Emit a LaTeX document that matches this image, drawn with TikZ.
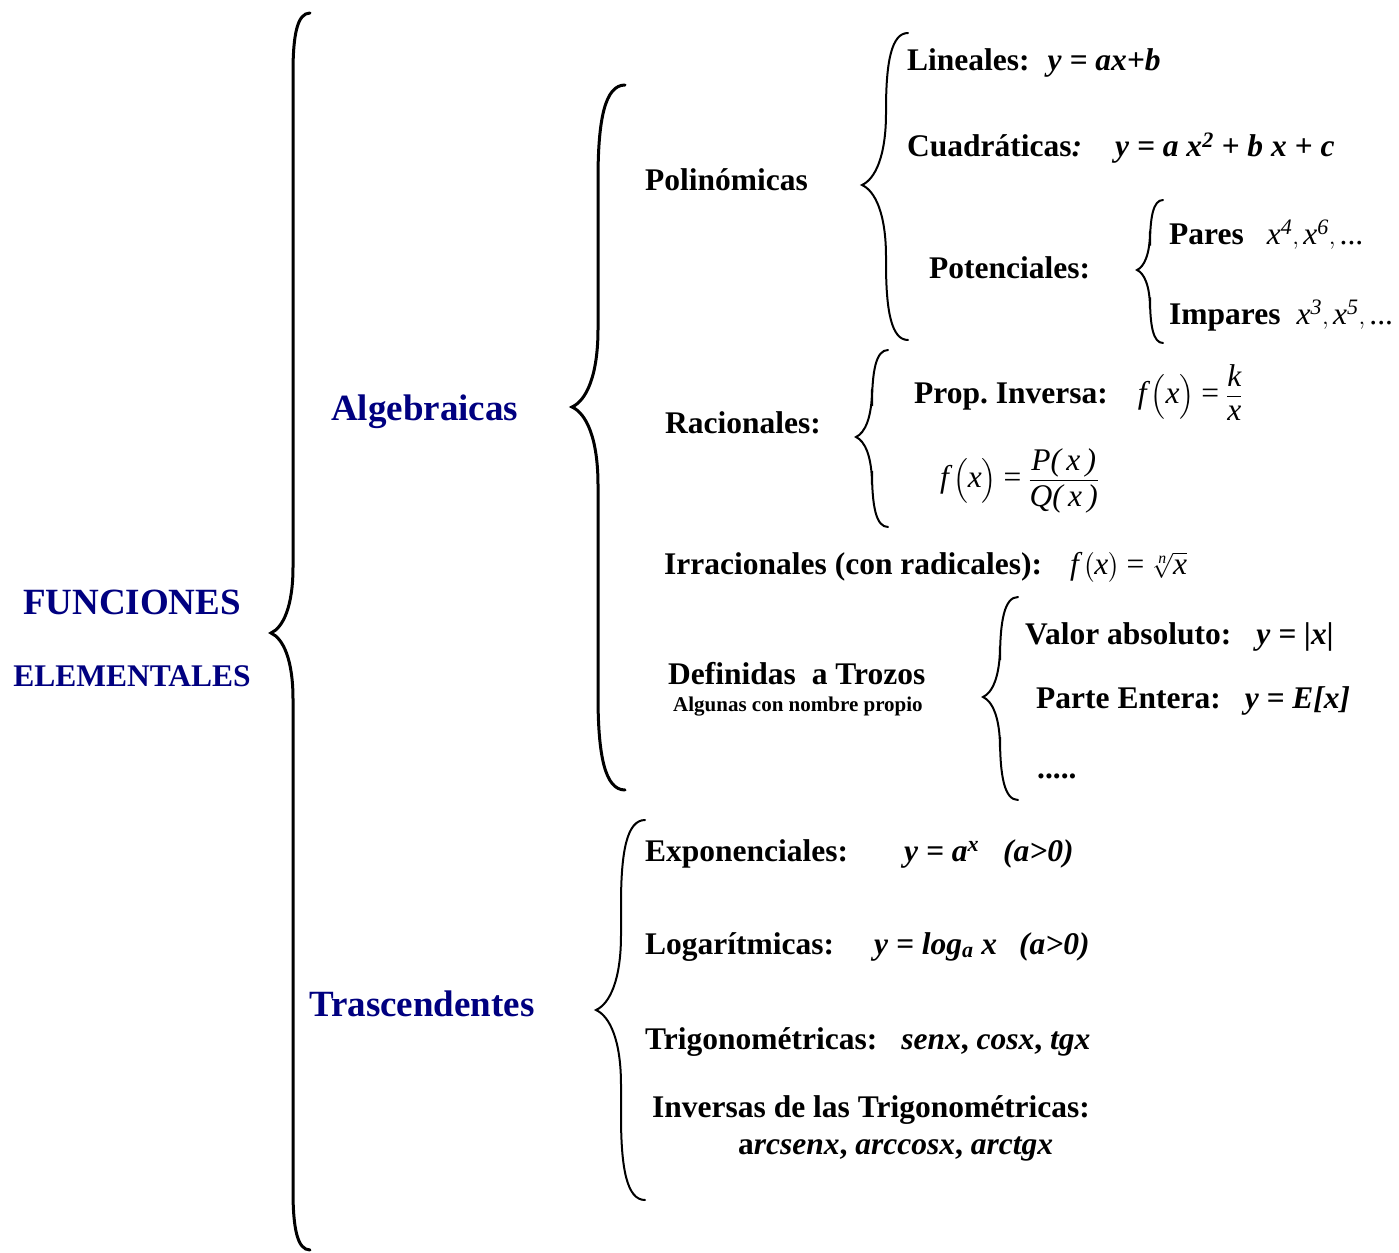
\documentclass[tikz,border=0pt]{standalone}
\usepackage{amsmath}
\usepackage{fontspec}
\setmainfont{Liberation Serif}
\definecolor{navyblue}{RGB}{0,0,128}

% upright-weight italic letter for the formulas
\newcommand\itv[1]{\text{\mdseries\itshape #1}}
\newcommand\eqs{\mathrel{\text{\mdseries =}}}

% left curly brace: end x, stem x, tip x, top y, tip y, bottom y
\newcommand\curlybr[7][brace]{%
  \pgfmathsetmacro\bwe{#2-#3}%
  \pgfmathsetmacro\bwt{#3-#4}%
  \pgfmathsetmacro\bya{#5+3.5*\bwe}%
  \pgfmathsetmacro\byb{#6-3.0*\bwt}%
  \pgfmathsetmacro\byc{#6+3.0*\bwt}%
  \pgfmathsetmacro\byd{#7-3.5*\bwe}%
  \pgfmathsetmacro\bxa{#3+0.25*\bwe}%
  \pgfmathsetmacro\bxt{#4+0.55*\bwt}%
  \draw[#1] (#2,#5) .. controls (\bxa,#5) and (#3,{#5+1.3*\bwe}) .. (#3,\bya)
    -- (#3,\byb) .. controls (#3,{#6-1.2*\bwt}) and (\bxt,{#6-0.25*\bwt}) .. (#4,#6)
    .. controls (\bxt,{#6+0.25*\bwt}) and (#3,{#6+1.2*\bwt}) .. (#3,\byc)
    -- (#3,\byd) .. controls (#3,{#7-1.3*\bwe}) and (\bxa,#7) .. (#2,#7);}

\begin{document}
\begin{tikzpicture}[
  x=1pt, y=-1pt,
  ttl/.style={font=\bfseries\fontsize{37}{40}\selectfont, text=navyblue,
              anchor=base, inner sep=0pt},
  grp/.style={font=\bfseries\fontsize{37}{40}\selectfont, text=navyblue,
              anchor=base west, inner sep=0pt},
  lbl/.style={font=\bfseries\fontsize{31.5}{36}\selectfont,
              anchor=base west, inner sep=0pt},
  note/.style={font=\bfseries\fontsize{21}{24}\selectfont,
              anchor=base west, inner sep=0pt},
  brace/.style={line width=2pt, line cap=round},
  bigbrace/.style={line width=3pt, line cap=round},
]
\useasboundingbox (0,0) rectangle (1399,1252);

% ---------- root ----------
\node[ttl] (fun) at (132,614) {FUNCIONES};
\node[ttl, font=\bfseries\fontsize{31.5}{36}\selectfont] (elem) at (132,686) {ELEMENTALES};
\curlybr[bigbrace]{310}{293}{271}{13}{633}{1250}

% ---------- two families ----------
\node[grp] (alg) at (331,420) {Algebraicas};
\node[grp] (tra) at (309,1016) {Trascendentes};
\curlybr[bigbrace]{625}{598}{572}{85}{407}{790}
\curlybr{645}{621}{596}{820}{1010}{1200}

% ---------- polinomicas ----------
\node[lbl] (pol) at (645,190) {Polinómicas};
\curlybr{908}{886}{862}{33}{185}{340}
\node[lbl] (lin) at (907,71) {Lineales:\hspace{18pt}\textit{y = ax+b}};
\node[lbl] (cua) at (907,157) {Cuadráticas\textit{:}\hspace{33pt}\textit{y = a x\textsuperscript{2} + b x + c}};
\node[lbl] (pot) at (929,278) {Potenciales:};
\curlybr{1163}{1150}{1137}{200}{270}{343}
\node[lbl] (par) at (1169,244) {Pares\hspace{23pt}$\itv{x}^{\itv{4}},\itv{x}^{\itv{6}},\text{\mdseries...}$};
\node[lbl] (imp) at (1169,324) {Impares\hspace{16pt}$\itv{x}^{\itv{3}},\itv{x}^{\itv{5}},\text{\mdseries...}$};

% ---------- racionales ----------
\node[lbl] (rac) at (665,433) {Racionales:};
\curlybr{888}{872}{856}{350}{437}{527}
\node[lbl] (inv) at (914,403) {Prop.\ Inversa:\hspace{30pt}$\itv{f}\,\Bigl(\itv{x}\Bigr)\eqs\dfrac{\itv{k}}{\itv{x}}$};
\node[lbl] (pq) at (940,487) {$\itv{f}\,\Bigl(\itv{x}\Bigr)\eqs\dfrac{\itv{P(\,x\,)}}{\itv{Q(\,x\,)}}$};

% ---------- irracionales ----------
\node[lbl] (irr) at (664,574) {Irracionales (con radicales):\hspace{28pt}$\itv{f}\,\bigl(\itv{x}\bigr)\eqs\sqrt[\itv{n}]{\itv{x}}$};

% ---------- a trozos ----------
\node[lbl] (tro) at (668,684) {Definidas\hspace{8pt} a Trozos};
\node[note] (nom) at (673,711) {Algunas con nombre propio};
\curlybr{1018}{1000}{983}{597}{697}{800}
\node[lbl] (abs) at (1025,644) {Valor absoluto:\hspace{25pt}\textit{y = |x|}};
\node[lbl] (ent) at (1036,708) {Parte Entera:\hspace{24pt}\textit{y = E[x]}};
\node[lbl] (dots) at (1037,778) {.....};

% ---------- trascendentes ----------
\node[lbl] (exp) at (645,861) {Exponenciales:\hspace{56pt}\textit{y = a\textsuperscript{x}\hspace{24pt}(a>0)}};
\node[lbl] (log) at (645,954) {Logarítmicas:\hspace{40pt}\textit{y = log\textsubscript{a} x\hspace{22pt}(a>0)}};
\node[lbl] (tri) at (645,1049) {Trigonométricas:\hspace{24pt}\textit{senx}, \textit{cosx}, \textit{tgx}};
\node[lbl] (atr) at (652,1117) {Inversas de las Trigonométricas:};
\node[lbl] (arc) at (738,1154) {a\textit{rcsenx}, \textit{arccosx}, \textit{arctgx}};

\end{tikzpicture}
\end{document}
